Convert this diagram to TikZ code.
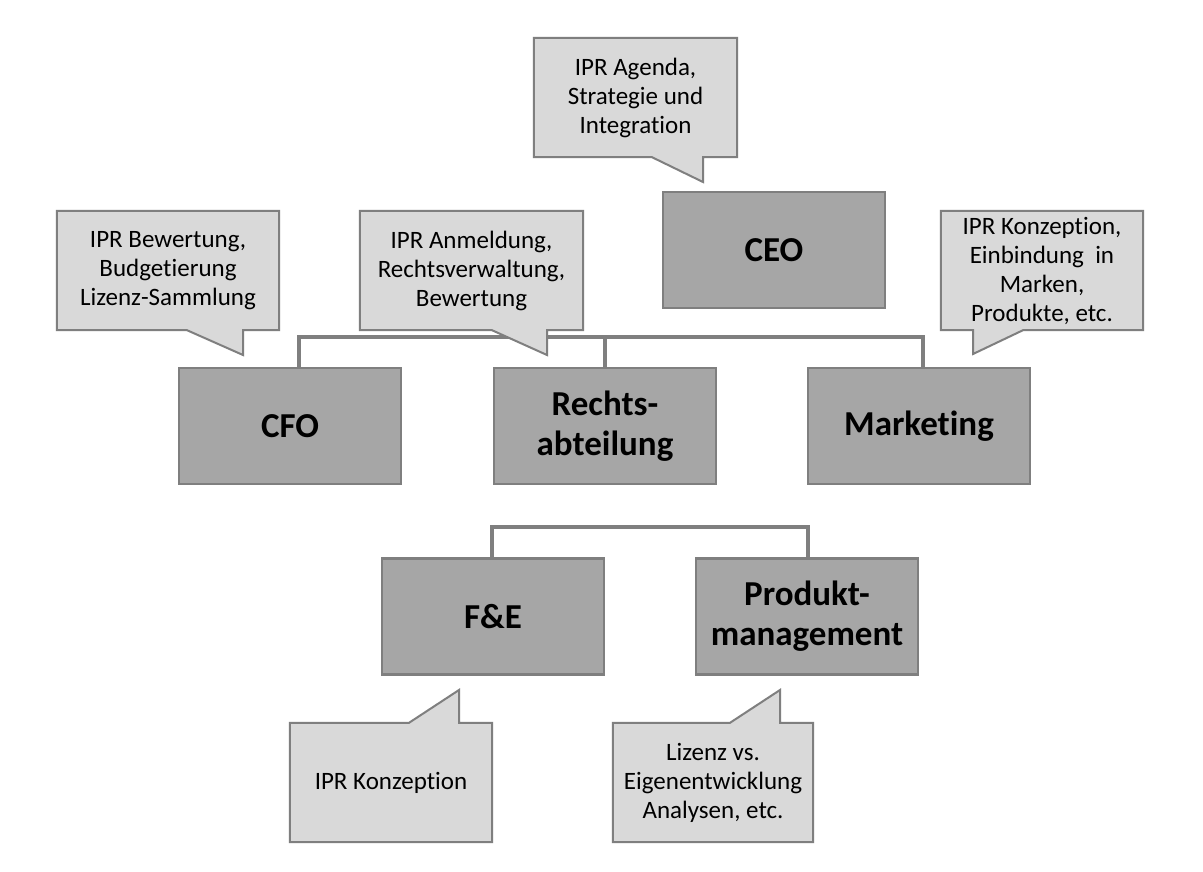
\documentclass[tikz,border=0pt]{standalone}
\usepackage{fontspec}
\setmainfont[Ligatures=NoCommon]{Carlito}
\usetikzlibrary{backgrounds}
\definecolor{boxfill}{HTML}{A6A6A6}
\definecolor{boxline}{HTML}{7F7F7F}
\definecolor{callfill}{HTML}{D9D9D9}
\definecolor{lineclr}{HTML}{7F7F7F}
\begin{document}
\begin{tikzpicture}[x=1pt,y=-1pt,
  orgbox/.style={draw=boxline, fill=boxfill, line width=2.6pt, minimum width=222pt, minimum height=116pt, align=center, font=\bfseries\fontsize{35}{40}\selectfont, inner sep=0pt},
  calltext/.style={align=center, font=\fontsize{25}{29}\selectfont, inner sep=0pt},
  callout/.style={draw=boxline, fill=callfill, line width=2pt, line join=miter},
  conn/.style={draw=lineclr, line width=4pt}]
\useasboundingbox (0,0) rectangle (1203,871);

% boxes
\node[orgbox] (ceo) at (774,250) {CEO};
\node[orgbox] (cfo) at (290,426) {CFO};
\node[orgbox] (recht) at (605,426) {Rechts-\\abteilung};
\node[orgbox] (mkt) at (919,426) {Marketing};
\node[orgbox] (fue) at (493,616.5) {F\&E};
\node[orgbox] (prod) at (807,616.5) {Produkt-\\management};

% callout texts
\node[calltext, minimum width=203pt, minimum height=119pt] (ceoC) at (635.5,97.5) {IPR Agenda,\\Strategie und\\Integration};
\node[calltext, minimum width=222pt, minimum height=119pt] (cfoC) at (168,270.5) {IPR Bewertung,\\Budgetierung\\Lizenz-Sammlung};
\node[calltext, minimum width=223pt, minimum height=119pt] (rechtC) at (471.5,270.5) {IPR Anmeldung,\\Rechtsverwaltung,\\Bewertung};
\node[calltext, minimum width=202pt, minimum height=119pt] (mktC) at (1042,270.5) {IPR Konzeption,\\Einbindung\ \ in\\Marken,\\Produkte, etc.};
\node[calltext, minimum width=202pt, minimum height=119pt] (fueC) at (391,782.5) {IPR Konzeption};
\node[calltext, minimum width=200pt, minimum height=119pt] (prodC) at (713,782.5) {Lizenz vs.\\Eigenentwicklung\\Analysen, etc.};

% tail coordinates
\coordinate (ceoT) at (703,182);  \coordinate (ceoB) at (652,0);
\coordinate (cfoT) at (243,355);  \coordinate (cfoB) at (187,0);
\coordinate (rechtT) at (547,355); \coordinate (rechtB) at (492,0);
\coordinate (mktT) at (973,354);  \coordinate (mktB) at (1023,0);
\coordinate (fueT) at (459,690);  \coordinate (fueB) at (409,0);
\coordinate (prodT) at (780,690); \coordinate (prodB) at (730,0);
\coordinate (bus1) at (0,337);
\coordinate (bus2) at (0,527);

\begin{scope}[on background layer]
  \fill[white] (0,0) rectangle (1203,871);
  % connectors
  \draw[conn] ([xshift=9pt]cfo.north) -- ([xshift=9pt]cfo.north |- bus1) -- ([xshift=4pt]mkt.north |- bus1) -- ([xshift=4pt]mkt.north);
  \draw[conn] (recht.north) -- (recht.north |- bus1);
  \draw[conn] ([xshift=-1pt]fue.north) -- ([xshift=-1pt]fue.north |- bus2) -- ([xshift=1pt]prod.north |- bus2) -- ([xshift=1pt]prod.north);
  % callout shapes
  \draw[callout] (ceoC.north west) -- (ceoC.north east) -- (ceoC.south east) -- (ceoC.south east -| ceoT) -- (ceoT) -- (ceoC.south west -| ceoB) -- (ceoC.south west) -- cycle;
  \draw[callout] (cfoC.north west) -- (cfoC.north east) -- (cfoC.south east) -- (cfoC.south east -| cfoT) -- (cfoT) -- (cfoC.south west -| cfoB) -- (cfoC.south west) -- cycle;
  \draw[callout] (rechtC.north west) -- (rechtC.north east) -- (rechtC.south east) -- (rechtC.south east -| rechtT) -- (rechtT) -- (rechtC.south west -| rechtB) -- (rechtC.south west) -- cycle;
  \draw[callout] (mktC.north west) -- (mktC.north east) -- (mktC.south east) -- (mktC.south east -| mktB) -- (mktT) -- (mktC.south west -| mktT) -- (mktC.south west) -- cycle;
  \draw[callout] (fueC.north west) -- (fueC.north west -| fueB) -- (fueT) -- (fueC.north east -| fueT) -- (fueC.north east) -- (fueC.south east) -- (fueC.south west) -- cycle;
  \draw[callout] (prodC.north west) -- (prodC.north west -| prodB) -- (prodT) -- (prodC.north east -| prodT) -- (prodC.north east) -- (prodC.south east) -- (prodC.south west) -- cycle;
\end{scope}
\end{tikzpicture}
\end{document}
